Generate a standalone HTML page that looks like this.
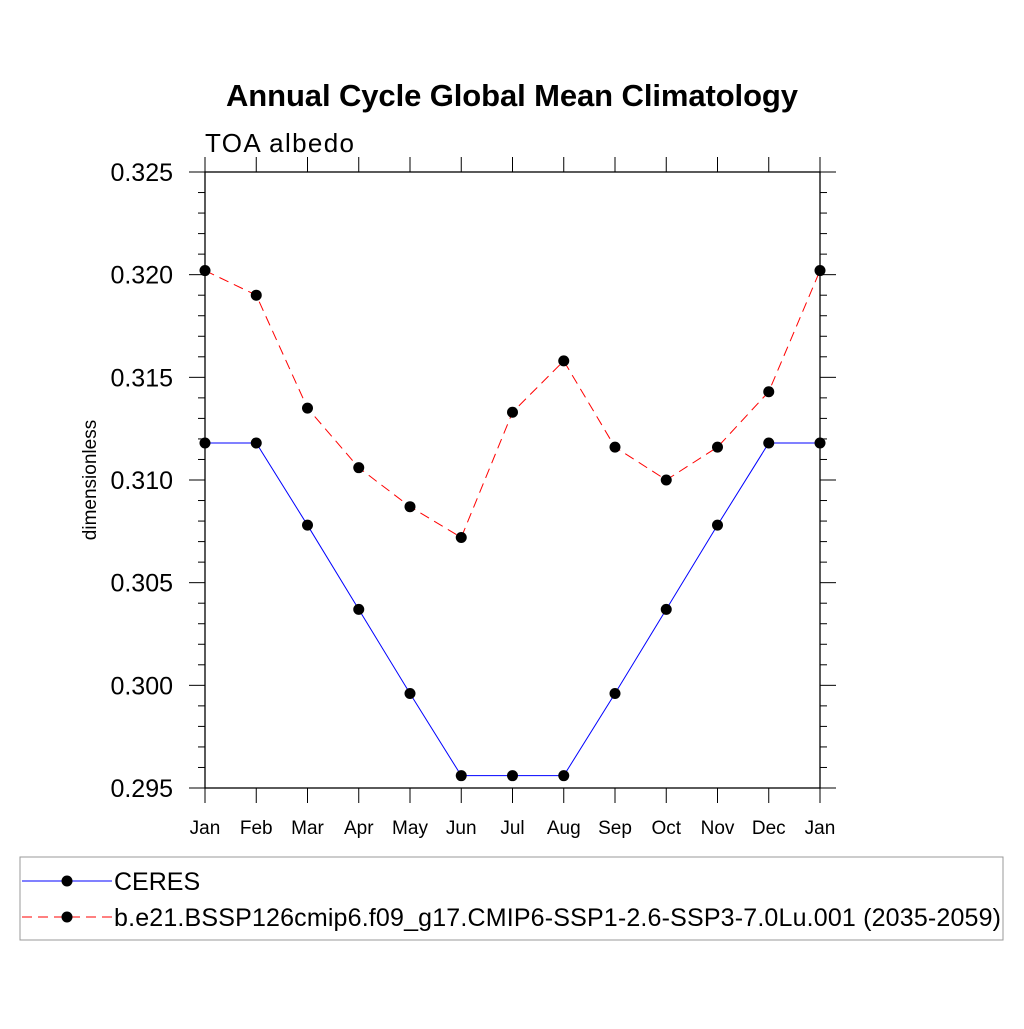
<!DOCTYPE html>
<html><head><meta charset="utf-8"><style>
body{margin:0;background:#fff;font-family:"Liberation Sans",sans-serif}
svg text{font-family:"Liberation Sans",sans-serif}
</style></head><body>
<svg id="c" width="1024" height="1024" viewBox="0 0 1024 1024">
<text x="512" y="106" text-anchor="middle" font-size="31" font-weight="bold" textLength="572">Annual Cycle Global Mean Climatology</text>
<text x="205" y="152" font-size="26" textLength="149">TOA albedo</text>
<text transform="translate(96,480) rotate(-90)" text-anchor="middle" font-size="19">dimensionless</text>
<g id="axes"></g><g id="series"></g>
<rect x="20" y="857" width="983" height="83" fill="none" stroke="#999"/>
<g>
<line x1="22" y1="881" x2="112" y2="881" stroke="#00f"/><circle cx="67" cy="881" r="5.5" fill="#000"/>
<text x="114" y="890" font-size="25">CERES</text></g>
<g>
<line x1="22" y1="917" x2="112" y2="917" stroke="#f00" stroke-dasharray="10,6"/><circle cx="67" cy="917" r="5.5" fill="#000"/>
<text x="114" y="926" font-size="25" textLength="887">b.e21.BSSP126cmip6.f09_g17.CMIP6-SSP1-2.6-SSP3-7.0Lu.001 (2035-2059)</text></g>
</svg>
<script>
const months=["Jan","Feb","Mar","Apr","May","Jun","Jul","Aug","Sep","Oct","Nov","Dec","Jan"];
const ceres=[0.3118,0.3118,0.3078,0.3037,0.2996,0.2956,0.2956,0.2956,0.2996,0.3037,0.3078,0.3118,0.3118];
const model=[0.3202,0.3190,0.3135,0.3106,0.3087,0.3072,0.3133,0.3158,0.3116,0.3100,0.3116,0.3143,0.3202];
const yTicks=["0.295","0.300","0.305","0.310","0.315","0.320","0.325"];
const NS="http://www.w3.org/2000/svg";
const L=205,R=820,T=172,B=788,ymin=0.295,ymax=0.325;
const xs=i=>L+(R-L)*i/(months.length-1);
const ys=v=>B-(v-ymin)/(ymax-ymin)*(B-T);
function mk(p,t,a){const e=document.createElementNS(NS,t);for(const k in a)e.setAttribute(k,a[k]);p.appendChild(e);return e;}
const ax=document.getElementById('axes'),se=document.getElementById('series');
const fr=mk(ax,'rect',{x:L,y:T,width:R-L,height:B-T,fill:'none',stroke:'#000','stroke-width':1.3});


for(let k=0;k<=30;k++){const v=ymin+k*0.001,y=ys(v),maj=k%5==0,len=maj?16:7;
 mk(ax,'line',{x1:L-len,y1:y,x2:L,y2:y,stroke:'#000'});mk(ax,'line',{x1:R,y1:y,x2:R+len,y2:y,stroke:'#000'});}
yTicks.forEach(s=>{const t=mk(ax,'text',{x:173,y:ys(+s)+9,'text-anchor':'end','font-size':25});t.textContent=s;
 
 });
months.forEach((m,i)=>{const x=xs(i);mk(ax,'line',{x1:x,y1:B,x2:x,y2:B+15,stroke:'#000'});mk(ax,'line',{x1:x,y1:T-15,x2:x,y2:T,stroke:'#000'});
 const t=mk(ax,'text',{x:x,y:834,'text-anchor':'middle','font-size':19});t.textContent=m;
 
 });
function draw(d,col,dash,name){const g=mk(se,'g',{});
 
 
 const a={points:d.map((v,i)=>xs(i)+','+ys(v)).join(' '),fill:'none',stroke:col,'stroke-width':1};if(dash)a['stroke-dasharray']=dash;mk(g,'polyline',a);
 d.forEach((v,i)=>{const c=mk(g,'circle',{cx:xs(i),cy:ys(v),r:5.5,fill:'#000'});
  
  });}
draw(ceres,'#00f',null,'series-ceres');
draw(model,'#f00','10,6','series-model');
</script>
</body></html>
